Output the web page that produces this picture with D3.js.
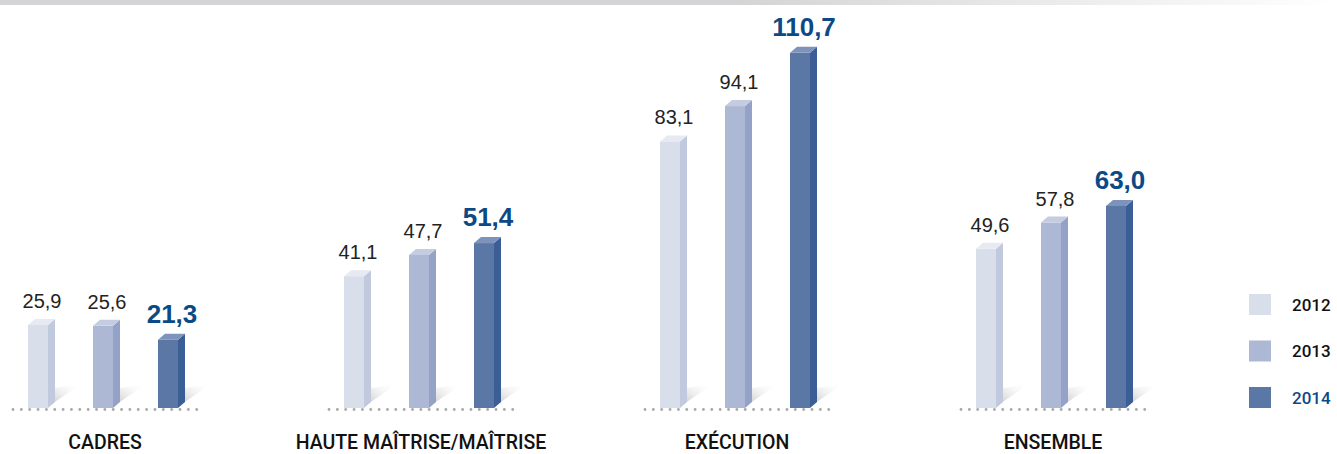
<!DOCTYPE html>
<html>
<head>
<meta charset="utf-8">
<script src="https://cdn.jsdelivr.net/npm/d3@7"></script>
<style>
  html, body { margin: 0; padding: 0; background: #fff; }
  svg { display: block; }
</style>
</head>
<body>
<div id="chart"></div>
<script>
const categories = ["CADRES", "HAUTE MAÎTRISE/MAÎTRISE", "EXÉCUTION", "ENSEMBLE"];
const years = ["2012", "2013", "2014"];
const values2012 = [25.9, 41.1, 83.1, 49.6];
const values2013 = [25.6, 47.7, 94.1, 57.8];
const values2014 = [21.3, 51.4, 110.7, 63.0];

const W = 1337, H = 454;
const BASE = 408;
const BAR_W = 20, DX = 7, DY = 6;

// colours per year: front, side, top
const palette = {
  "2012": { front: "#d9deeb", side: "#c1c9de", top: "#e7eaf3" },
  "2013": { front: "#adb8d5", side: "#93a2c6", top: "#c4cce1" },
  "2014": { front: "#5a77a6", side: "#3a5e95", top: "#7d93bb" }
};
const BLUE = "#0c4a87";

const rows = categories.map((c, i) => ({
  cat: c,
  vals: [
    { year: "2012", v: values2012[i] },
    { year: "2013", v: values2013[i] },
    { year: "2014", v: values2014[i] }
  ]
}));

const svg = d3.select("#chart").append("svg")
  .attr("width", W).attr("height", H);

const defs = svg.append("defs");
const band = defs.append("linearGradient").attr("id", "band")
  .attr("x1", 0).attr("x2", 1).attr("y1", 0).attr("y2", 0);
band.append("stop").attr("offset", "0.55").attr("stop-color", "#d4d4d6");
band.append("stop").attr("offset", "1").attr("stop-color", "#ffffff");

const shade = defs.append("linearGradient").attr("id", "shade")
  .attr("x1", 0).attr("y1", 1).attr("x2", 1).attr("y2", 0);
shade.append("stop").attr("offset", "0").attr("stop-color", "#9a9a9a").attr("stop-opacity", 0.75);
shade.append("stop").attr("offset", "1").attr("stop-color", "#ffffff").attr("stop-opacity", 0);

// grey band on top
svg.append("rect").attr("x", 0).attr("y", 0).attr("width", W).attr("height", 5)
  .attr("fill", "url(#band)");

// scales
const x0 = d3.scaleBand().domain(categories).range([28, 28 + 4 * 316]).padding(0);
const x1 = d3.scaleBand().domain(years).range([0, 195]).padding(0);
const y = d3.scaleLinear().domain([0, 120]).range([BASE, BASE - 385]);

const fmt = v => d3.format(".1f")(v).replace(".", ",");

const groups = svg.selectAll("g.group").data(rows).enter().append("g")
  .attr("class", "group")
  .attr("transform", d => "translate(" + x0(d.cat) + ",0)");

// dotted floor
groups.selectAll("circle.dot").data(d3.range(23)).enter().append("circle")
  .attr("class", "dot")
  .attr("cx", i => -15 + i * 8.35)
  .attr("cy", BASE + 1.5)
  .attr("r", 1.4)
  .attr("fill", "#a8a8ab");

const bars = groups.selectAll("g.bar").data(d => d.vals).enter().append("g")
  .attr("class", "bar")
  .attr("transform", d => "translate(" + x1(d.year) + ",0)");

// floor shadow
bars.append("polygon")
  .attr("points", d => {
    const xs = BAR_W + DX;
    return [[BAR_W - 2, BASE], [xs, BASE - 20], [xs + 26, BASE - 24]].map(p => p.join(",")).join(" ");
  })
  .attr("fill", "url(#shade)");

// front face
bars.append("rect")
  .attr("x", 0)
  .attr("y", d => y(d.v))
  .attr("width", BAR_W)
  .attr("height", d => BASE - y(d.v))
  .attr("fill", d => palette[d.year].front);

// side face
bars.append("polygon")
  .attr("points", d => {
    const t = y(d.v);
    return [[BAR_W, t], [BAR_W + DX, t - DY], [BAR_W + DX, BASE - DY], [BAR_W, BASE]]
      .map(p => p.join(",")).join(" ");
  })
  .attr("fill", d => palette[d.year].side);

// top face
bars.append("polygon")
  .attr("points", d => {
    const t = y(d.v);
    return [[0, t], [DX, t - DY], [BAR_W + DX, t - DY], [BAR_W, t]]
      .map(p => p.join(",")).join(" ");
  })
  .attr("fill", d => palette[d.year].top);

// value labels
bars.append("text")
  .attr("x", BAR_W / 2 + 4)
  .attr("y", d => y(d.v) - 17)
  .attr("text-anchor", "middle")
  .style("font-family", "'Liberation Sans', Arial, sans-serif")
  .style("font-size", d => d.year === "2014" ? "26px" : "20px")
  .style("font-weight", d => d.year === "2014" ? "bold" : "normal")
  .attr("fill", d => d.year === "2014" ? BLUE : "#222")
  .text(d => fmt(d.v));

// category labels
groups.append("text")
  .attr("x", x1("2013") + BAR_W / 2 + 2)
  .attr("y", 449)
  .attr("text-anchor", "middle")
  .style("font-family", "Roboto, 'Liberation Sans', sans-serif")
  .style("font-size", "19.5px")
  .style("font-weight", 500)
  .attr("fill", "#111")
  .text(d => d.cat);

// legend
const legend = svg.append("g").attr("transform", "translate(1249,294)");
const li = legend.selectAll("g").data(years).enter().append("g")
  .attr("transform", (d, i) => "translate(0," + i * 46.5 + ")");
li.append("rect").attr("width", 22).attr("height", 21)
  .attr("fill", d => palette[d].front);
li.append("text")
  .attr("x", 43).attr("y", 16.5)
  .style("font-family", "Roboto, 'Liberation Sans', sans-serif")
  .style("font-size", "17px")
  .style("font-weight", 500)
  .attr("fill", d => d === "2014" ? BLUE : "#111")
  .text(d => d);
</script>
</body>
</html>
